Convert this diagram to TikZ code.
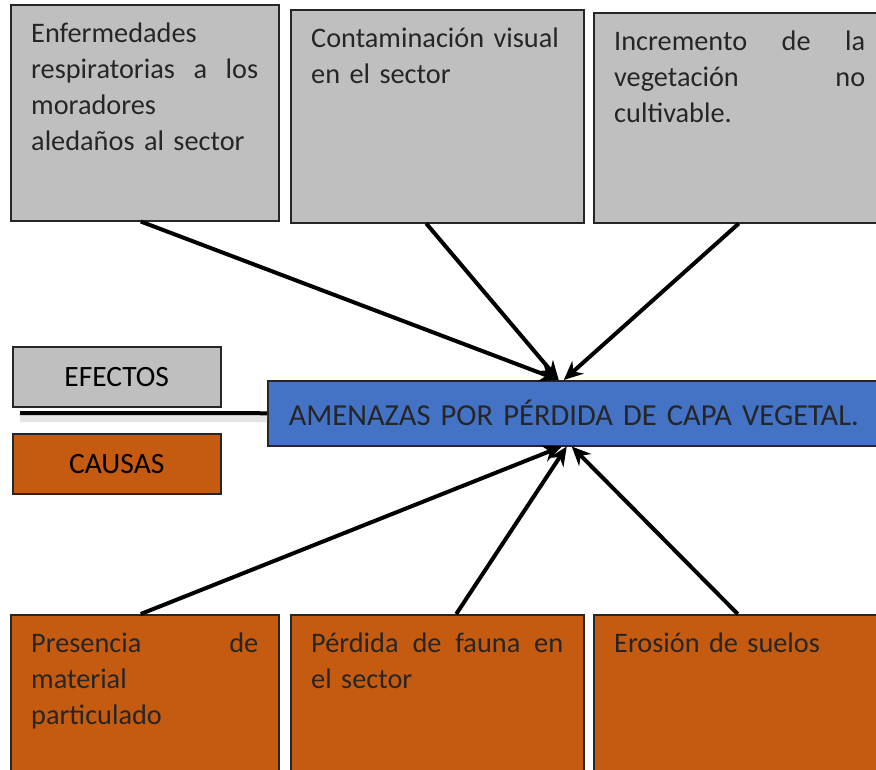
\documentclass[tikz,border=0pt]{standalone}
\usepackage{fontspec}
\setmainfont{Carlito}
\usetikzlibrary{arrows.meta, positioning}
\definecolor{efGray}{HTML}{BFBFBF}
\definecolor{caOrange}{HTML}{C55A11}
\definecolor{amBlue}{HTML}{4472C4}
\definecolor{txDark}{HTML}{262626}

\begin{document}
\begin{tikzpicture}[
    x=1pt, y=-1pt,
    box/.style={rectangle, draw=black!85, line width=1.5pt, anchor=north west},
    efecto/.style={box, fill=efGray},
    causa/.style={box, fill=caOrange},
    texto/.style={anchor=north west, align=left, inner xsep=21pt, inner ysep=19pt,
                  font=\fontsize{28.3}{36}\selectfont\color{txDark}},
    tag/.style={box, minimum width=208pt, minimum height=60pt,
                font=\fontsize{29.5}{34}\selectfont\color{black}},
    flecha/.style={line width=4pt, -{Stealth[length=19pt, width=17pt]}},
  ]
    \useasboundingbox (0,0) rectangle (876,769);
    \begin{scope}
    \clip (0,0) rectangle (876,769);

    % efectos
    \node[efecto, minimum width=268pt, minimum height=216pt] (ef1) at (10,4) {};
    \node[texto, text width=227pt] (ef1t) at (ef1.north west) {Enfermedades\\
      respiratorias \hfill a \hfill los\\ moradores\\ aledaños al sector};
    \node[efecto, minimum width=293pt, minimum height=213pt] (ef2) at (290,9) {};
    \node[texto, text width=252pt] (ef2t) at ([yshift=0pt]ef2.north west)
      {\makebox[252pt][s]{Contaminación visual}\\ en el sector};
    \node[efecto, minimum width=300pt, minimum height=210pt] (ef3) at (593,12) {};
    \node[texto, text width=251pt] (ef3t) at (ef3.north west)
      {Incremento \hfill de \hfill la\\ vegetación \hfill no\\ cultivable.};

    % problema central
    \node[box, fill=amBlue, minimum width=620pt, minimum height=65pt,
          inner xsep=21pt, text width=578pt, align=left,
          font=\fontsize{30.5}{34}\selectfont\color{txDark}] (amenaza) at (267,380)
      {AMENAZAS POR PÉRDIDA DE CAPA VEGETAL.};

    \node[tag, fill=efGray] (efectos) at (12,346) {EFECTOS};
    \node[tag, fill=caOrange] (causas) at (12,433) {CAUSAS};

    \coordinate (eje) at (20,413);
    \draw[line width=8pt, black!10] ([yshift=-5pt]eje) -- ([yshift=-5pt]amenaza.west);
    \draw[line width=4pt] (eje) -- (amenaza.west);

    % causas
    \node[causa, minimum width=268pt, minimum height=170pt] (ca1) at (10,614) {};
    \node[texto, text width=227pt] (ca1t) at (ca1.north west)
      {Presencia \hfill de\\ material\\ particulado};
    \node[causa, minimum width=293pt, minimum height=170pt] (ca2) at (290,614) {};
    \node[texto, text width=252pt] (ca2t) at (ca2.north west)
      {Pérdida \hfill de \hfill fauna \hfill en\\ el sector};
    \node[causa, minimum width=300pt, minimum height=170pt] (ca3) at (593,614) {};
    \node[texto, text width=251pt] (ca3t) at (ca3.north west)
      {Erosión de suelos};

    % flechas
    \draw[flecha] ([xshift=-4pt]ef1.south) -- ([xshift=-19pt]amenaza.north);
    \draw[flecha] ([xshift=-11pt]ef2.south) -- ([xshift=-19pt]amenaza.north);
    \draw[flecha] ([xshift=-5pt]ef3.south) -- ([xshift=-14pt]amenaza.north);
    \draw[flecha] ([xshift=-4pt]ca1.north) -- ([xshift=-16pt]amenaza.south);
    \draw[flecha] ([xshift=19pt]ca2.north) -- ([xshift=-11pt]amenaza.south);
    \draw[flecha] ([xshift=-6pt]ca3.north) -- ([xshift=-6pt]amenaza.south);
    \end{scope}
\end{tikzpicture}
\end{document}
